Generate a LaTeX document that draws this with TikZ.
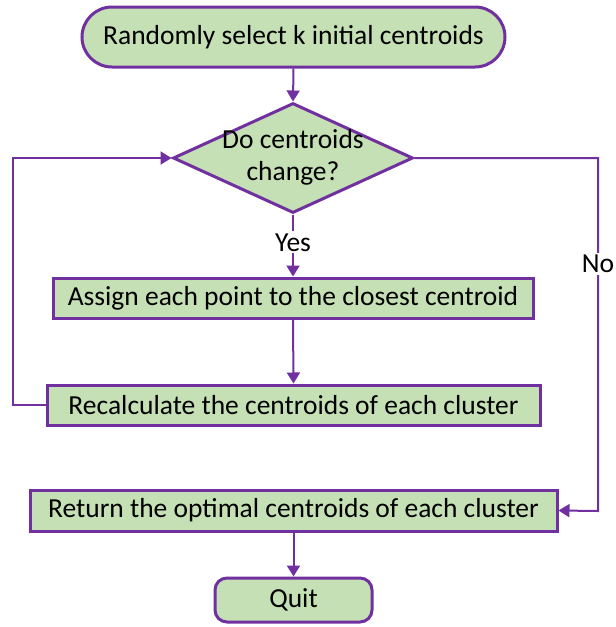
\documentclass[tikz,border=0pt]{standalone}
\usepackage{fontspec}
\setmainfont{Carlito}
\usetikzlibrary{shapes.geometric,shapes.misc,arrows.meta}
\definecolor{boxfill}{HTML}{C5E0B4}
\definecolor{edgec}{HTML}{7030A0}
\begin{document}
\begin{tikzpicture}[x=1pt,y=-1pt,
  every node/.style={font=\fontsize{27.5}{32}\selectfont, text=black},
  procbox/.style={draw=edgec, line width=3pt, fill=boxfill, rectangle, inner sep=0pt},
  termbox/.style={draw=edgec, line width=3pt, fill=boxfill, rounded rectangle, inner sep=0pt},
  quitbox/.style={draw=edgec, line width=3pt, fill=boxfill, rectangle, rounded corners=12pt, inner sep=0pt},
  decbox/.style={draw=edgec, line width=3pt, fill=boxfill, diamond, inner sep=0pt},
  conn/.style={draw=edgec, line width=2pt, -{Triangle[width=13pt,length=11pt]}},
  lbl/.style={fill=white, inner sep=2pt}]
\useasboundingbox (0,0) rectangle (616,627);
\node[termbox, minimum width=423pt, minimum height=60pt] (start) at (293.5,37) {};
\node at (start.center) {Randomly select k initial centroids};
\node[decbox, minimum width=240pt, minimum height=110pt, aspect=2.18] (dec) at (293,158) {};
\node[align=center, inner sep=0pt] (dectext) at (293,157) {Do centroids\\change?};
\node[procbox, minimum width=480pt, minimum height=40pt] (assign) at (293,298) {};
\node at (assign.center) {Assign each point to the closest centroid};
\node[procbox, minimum width=493pt, minimum height=40pt] (recalc) at (293.5,405) {};
\node at (recalc.center) {Recalculate the centroids of each cluster};
\node[procbox, minimum width=527pt, minimum height=41pt] (ret) at (293.5,510.5) {};
\node at (ret.center) {Return the optimal centroids of each cluster};
\node[quitbox, minimum width=157pt, minimum height=44pt] (quit) at (293.5,600) {};
\node at (quit.center) {Quit};
\coordinate (lcorner1) at (13,405);
\coordinate (lcorner2) at (13,158);
\coordinate (rcorner1) at (598,158);
\coordinate (rcorner2) at (598,511);
\draw[conn] (start.south) -- (dec.north);
\draw[conn] (dec.south) -- node[lbl, pos=0.45] {Yes} (assign.north);
\draw[conn] (assign.south) -- (recalc.north);
\draw[conn] (recalc.west) -- (lcorner1) -- (lcorner2) -- (dec.west);
\draw[conn] (dec.east) -- (rcorner1) -- node[lbl, pos=0.3] {No} (rcorner2) -- (ret.east);
\draw[conn] (ret.south) -- (quit.north);
\end{tikzpicture}
\end{document}
